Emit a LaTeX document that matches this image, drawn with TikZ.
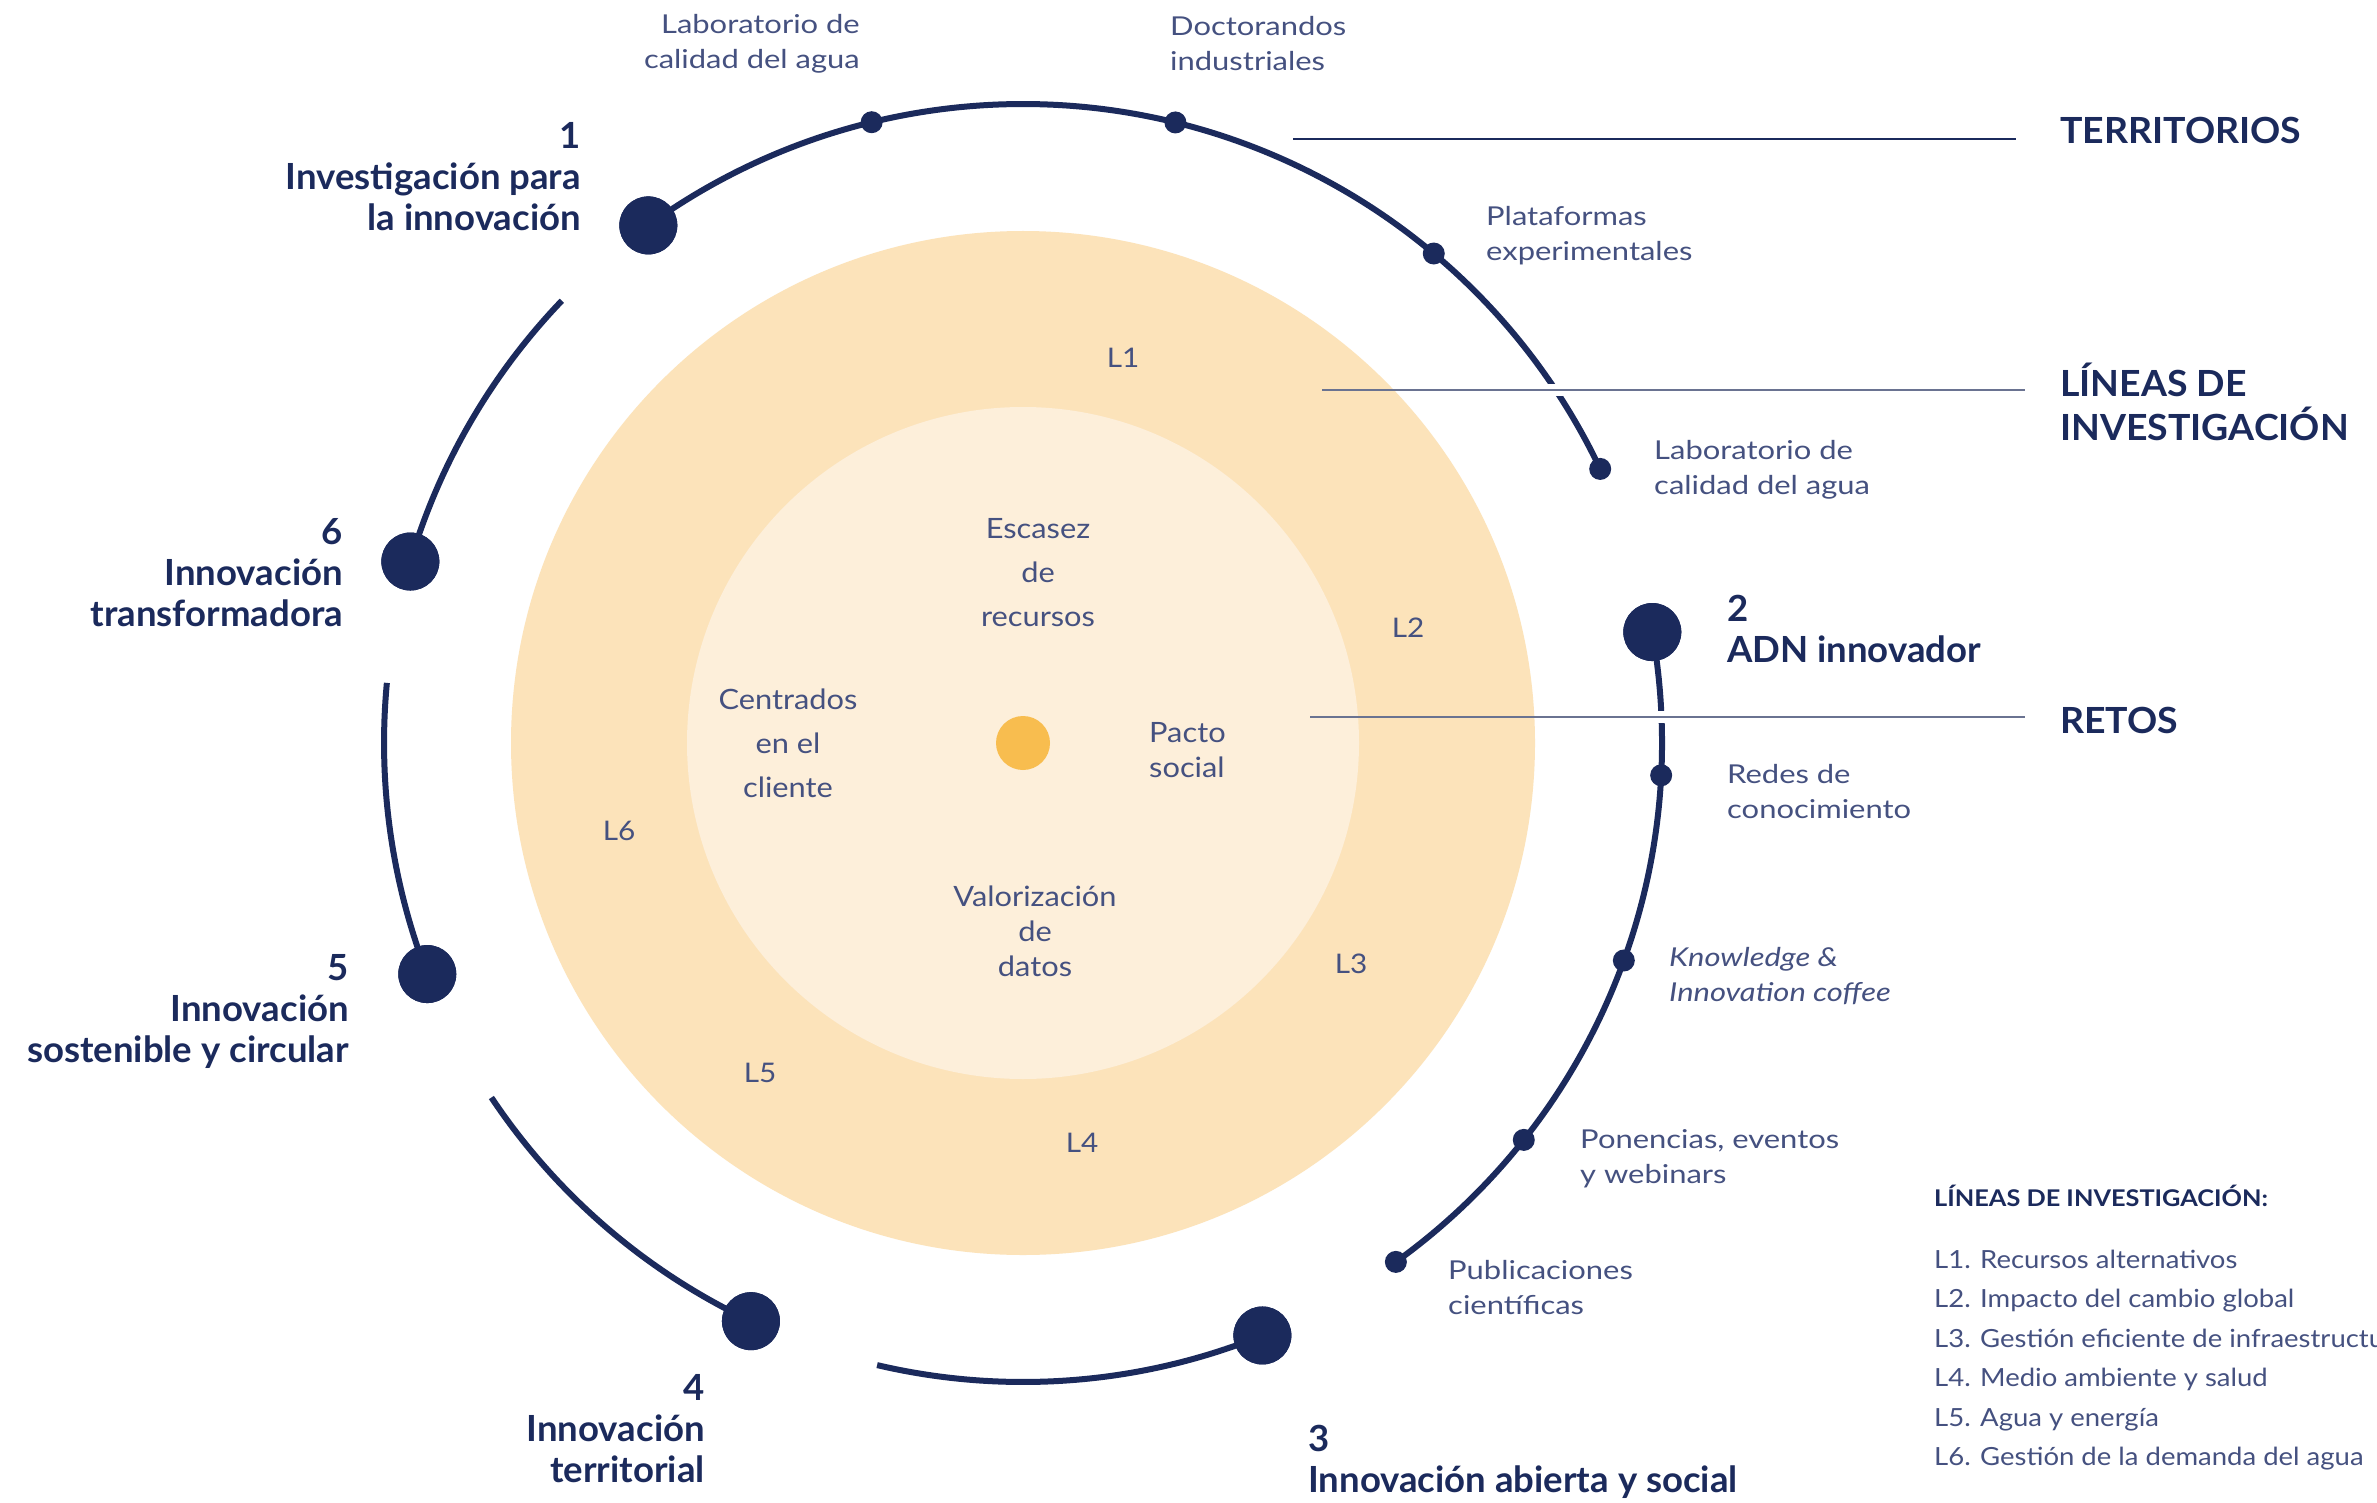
\documentclass[tikz,border=0pt]{standalone}
\usepackage{fontspec}
\setmainfont{Lato}
\newfontfamily\wideA{Lato}[FakeStretch=1.19]
\newfontfamily\wideB{Lato}[FakeStretch=1.1]
\newfontfamily\wideC{Lato}[FakeStretch=1.04]
\newfontfamily\wideD{Lato}[FakeStretch=1.015]
\usetikzlibrary{calc}
\definecolor{navy}{HTML}{1B2A5C}
\definecolor{txt}{HTML}{455180}
\definecolor{ringA}{HTML}{FCE3BA}
\definecolor{ringB}{HTML}{FDEFDA}
\definecolor{core}{HTML}{F8BD4F}
\definecolor{rulec}{HTML}{6A7391}
\begin{document}
\begin{tikzpicture}[x=1pt,y=-1pt,
  bigdot/.style={circle, fill=navy, minimum size=58pt, inner sep=0pt},
  smalldot/.style={circle, fill=navy, minimum size=22pt, inner sep=0pt},
  ring/.style={navy, line width=6pt},
  lbl/.style={text=txt, font=\wideA\fontsize{26}{35}\selectfont, inner sep=0pt},
  blbl/.style={text=navy, font=\wideD\bfseries\fontsize{36}{41}\selectfont, inner sep=0pt},
  head/.style={text=navy, font=\wideC\bfseries\fontsize{36}{44}\selectfont, inner sep=0pt, align=left, anchor=west},
  ctr/.style={text=txt, font=\wideB\fontsize{28}{44}\selectfont, inner sep=0pt, align=center},
  lnum/.style={text=txt, font=\wideB\fontsize{27}{30}\selectfont, inner sep=0pt},
  hline/.style={line width=2pt},
  gap/.style={white, line width=12pt}
]
\useasboundingbox[fill=white] (0,0) rectangle (2377,1503);
\coordinate (C) at (1023,743);

% rings
\fill[ringA] (C) circle[radius=512pt];
\fill[ringB] (C) circle[radius=336pt];
\node[circle, fill=core, minimum size=54pt, inner sep=0pt] (core) at (C) {};

% big dots
\node[bigdot] (b1) at ($(C)+(125.9:639pt)$) {};
\node[bigdot] (b2) at ($(C)+(10:639pt)$) {};
\node[bigdot] (b3) at ($(C)+(-68:639pt)$) {};
\node[bigdot] (b4) at ($(C)+(-115.2:639pt)$) {};
\node[bigdot] (b5) at ($(C)+(-158.8:639pt)$) {};
\node[bigdot] (b6) at ($(C)+(163.5:639pt)$) {};

% arcs
\draw[ring] (b1.center) arc[start angle=125.9, end angle=25.4, radius=639pt] coordinate (e1);
\draw[ring] (b2.center) arc[start angle=10, end angle=-54.3, radius=639pt] coordinate (e2);
\draw[ring] (b3.center) arc[start angle=-68, end angle=-103.2, radius=639pt] coordinate (e3);
\draw[ring] (b4.center) arc[start angle=-115.2, end angle=-146.3, radius=639pt] coordinate (e4);
\draw[ring] (b5.center) arc[start angle=-158.8, end angle=-185.4, radius=639pt] coordinate (e5);
\draw[ring] (b6.center) arc[start angle=163.5, end angle=136.2, radius=639pt] coordinate (e6);

% redraw big dots on top
\foreach \n/\a in {b1/125.9,b2/10,b3/-68,b4/-115.2,b5/-158.8,b6/163.5}
  \fill[navy] ($(C)+(\a:639pt)$) circle[radius=29pt];

% small dots
\node[smalldot] (s1a) at ($(C)+(103.7:639pt)$) {};
\node[smalldot] (s1b) at ($(C)+(76.2:639pt)$) {};
\node[smalldot] (s1c) at ($(C)+(50.0:639pt)$) {};
\node[smalldot] (s1d) at ($(C)+(25.4:639pt)$) {};
\node[smalldot] (s2a) at ($(C)+(-2.9:639pt)$) {};
\node[smalldot] (s2b) at ($(C)+(-19.9:639pt)$) {};
\node[smalldot] (s2c) at ($(C)+(-38.4:639pt)$) {};
\node[smalldot] (s2d) at ($(C)+(-54.3:639pt)$) {};

% horizontal rules with gaps
\coordinate (t0) at (1293,139); \coordinate (t1) at (2016,139);
\coordinate (l0) at (1322,390); \coordinate (l1) at (2025,390);
\coordinate (r0) at (1310,717); \coordinate (r1) at (2025,717);
\draw[gap] (1544,390) -- (1568,390);
\draw[gap] (1650,717) -- (1674,717);
\draw[hline, navy] (t0) -- (t1);
\draw[hline, rulec] (l0) -- (l1);
\draw[hline, rulec] (r0) -- (r1);

% headings
\node[head] (hT) at (2060,130) {TERRITORIOS};
\node[head] (hL) at (2060,402) {LÍNEAS DE\\INVESTIGACIÓN};
\node[head] (hR) at (2060,720) {RETOS};

% small labels
\node[lbl, align=right, anchor=east] (tLab) at (860,44) {Laboratorio de\\calidad del agua};
\node[lbl, align=left, anchor=west] (tDoc) at (1170,44) {Doctorandos\\industriales};
\node[lbl, align=left, anchor=west] (tPla) at (1486,236) {Plataformas\\experimentales};
\node[lbl, align=left, anchor=west] (tLab2) at (1654,470) {Laboratorio de\\calidad del agua};
\node[lbl, align=left, anchor=west] (tRed) at (1727,792) {Redes de\\conocimiento};
\node[lbl, align=left, anchor=west] (tKno) at (1669,976) {\itshape Knowledge \&\\\itshape Innovation coffee};
\node[lbl, align=left, anchor=west] (tPon) at (1580,1159) {Ponencias, eventos\\y webinars};
\node[lbl, align=left, anchor=west] (tPub) at (1448,1288) {Publicaciones\\científicas};

% bold labels
\node[blbl, align=right, anchor=east] (n1) at (581,177) {1\\Investigación para\\la innovación};
\node[blbl, align=left, anchor=west] (n2) at (1727,629) {2\\ADN innovador};
\node[blbl, align=left, anchor=west] (n3) at (1308,1462) {3\\Innovación abierta y social};
\node[blbl, align=right, anchor=east] (n4) at (705,1429) {4\\Innovación\\territorial};
\node[blbl, align=right, anchor=east] (n5) at (349,1011) {5\\Innovación\\sostenible y circular};
\node[blbl, align=right, anchor=east] (n6) at (343,573) {6\\Innovación\\transformadora};

% center texts
\node[ctr] (cE) at (1038,573) {Escasez\\de\\recursos};
\node[ctr] (cC) at (788,743) {Centrados\\en el\\cliente};
\node[ctr, align=left, anchor=west, font=\wideB\fontsize{28}{35}\selectfont] (cP) at (1149,750) {Pacto\\social};
\node[ctr, font=\wideB\fontsize{28}{35}\selectfont] (cV) at (1035,931) {Valorización\\de\\datos};

% L labels
\node[lnum] (L1) at (1123,358) {L1};
\node[lnum] (L2) at (1408,628) {L2};
\node[lnum] (L3) at (1351,964) {L3};
\node[lnum] (L4) at (1082,1143) {L4};
\node[lnum] (L5) at (760,1073) {L5};
\node[lnum] (L6) at (619,831) {L6};

% legend
\node[text=navy, font=\wideB\bfseries\fontsize{23}{28}\selectfont, inner sep=0pt, anchor=west] (legH) at (1934,1196) {LÍNEAS DE INVESTIGACIÓN:};
\node[text=txt, font=\wideB\fontsize{25}{39.4}\selectfont, inner sep=0pt, align=left, anchor=west] (legB) at (1934,1360)
 {L1. Recursos alternativos\\L2. Impacto del cambio global\\L3. Gestión eficiente de infraestructuras\\L4. Medio ambiente y salud\\L5. Agua y energía\\L6. Gestión de la demanda del agua};
\end{tikzpicture}
\end{document}
